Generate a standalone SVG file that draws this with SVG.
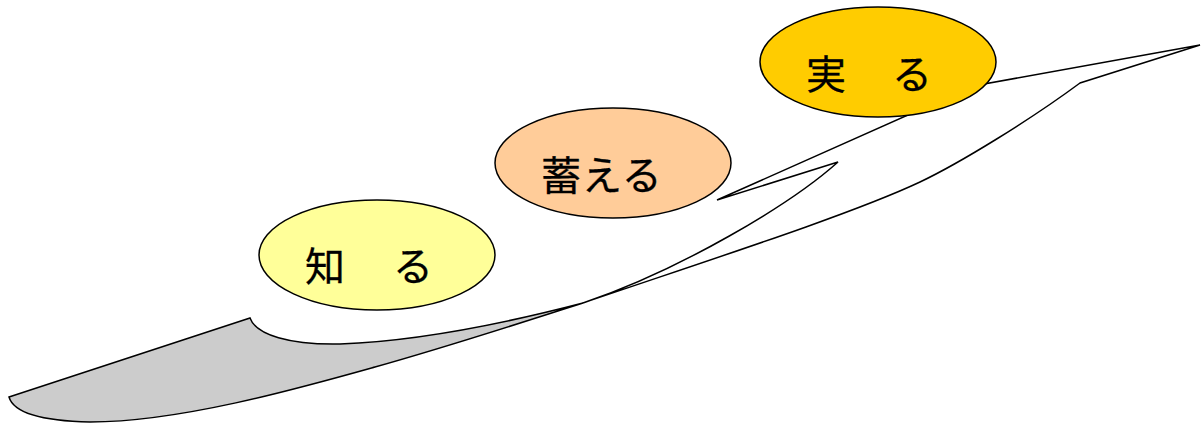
<svg xmlns="http://www.w3.org/2000/svg" width="1203" height="423" viewBox="0 0 1203 423">
<style>
.ln{stroke:#000;stroke-width:1.5;stroke-linejoin:miter}
.el{stroke:#000;stroke-width:1.5}
.tx{font-family:"Noto Sans CJK JP","Noto Sans CJK SC",sans-serif;font-size:40px;fill:#000;stroke:#000;stroke-width:0.3}
</style>
<rect width="1203" height="423" fill="#fff"/>
<g id="ribbon">
<path class="ln" fill="#cccccc" d="M9,397 L250,318 C256,335 290,345 340,344 C420,341 510,322 583,303 C520,323 450,346 375,367 C300,388 180,422 90,422 C45,421 14,414 9,397 Z"/>
<path class="ln" fill="#fff" d="M583,303 C680,270 790,205 838,162 L717,200 L973,86 L1200,45 L1080,83 C1030,120 960,163 920,182 C850,215 700,263 583,303 Z"/>
</g>
<g id="node-shiru">
<ellipse class="el" cx="377" cy="255" rx="118" ry="55" fill="#ffff99"/>
<text class="tx" x="305" y="281" letter-spacing="4" xml:space="preserve">知　る</text>
</g>
<g id="node-takuwaeru">
<ellipse class="el" cx="613" cy="163" rx="118" ry="55" fill="#ffcc99"/>
<text class="tx" x="541" y="190" letter-spacing="1">蓄える</text>
</g>
<g id="node-minoru">
<ellipse class="el" cx="878" cy="62" rx="118" ry="55" fill="#ffcc00"/>
<text class="tx" x="806" y="89" letter-spacing="3" xml:space="preserve">実　る</text>
</g>
</svg>
